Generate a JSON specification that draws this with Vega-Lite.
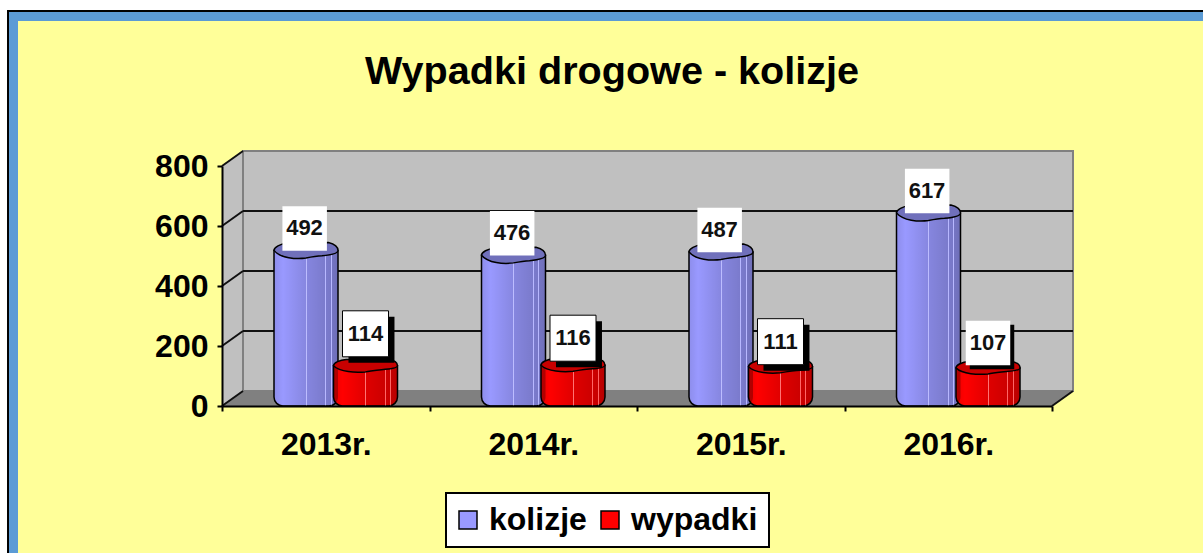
{"$schema":"https://vega.github.io/schema/vega-lite/v6.json","width":830,"height":240,"autosize":"none","padding":{"left":222,"top":166,"right":151,"bottom":147},"background":"white","config":{"view":{"stroke":null},"font":"Liberation Sans","legend":{"strokeWidth":2},"axis":{"grid":false}},"title":{"text":"Wypadki drogowe - kolizje","font":"Liberation Sans","fontSize":39.6,"fontWeight":"bold","color":"black","anchor":"middle","dx":-25,"offset":-121.5,"baseline":"bottom","zindex":1},"datasets":{"main":[{"year":"2013r.","series":"kolizje","value":492},{"year":"2014r.","series":"kolizje","value":476},{"year":"2015r.","series":"kolizje","value":487},{"year":"2016r.","series":"kolizje","value":617},{"year":"2013r.","series":"wypadki","value":114},{"year":"2014r.","series":"wypadki","value":116},{"year":"2015r.","series":"wypadki","value":111},{"year":"2016r.","series":"wypadki","value":107}]},"resolve":{"scale":{"x":"independent"},"axis":{"x":"independent"}},"layer":[{"layer":[{"data":{"values":[{"a":-1.0361,"b":4.76,"c":-523,"d":1320,"f":"black"},{"a":-1.0265,"b":4.76,"c":-523,"d":1313.3,"f":"#5B9BD5"},{"a":-0.9831,"b":4.76,"c":-523,"d":1283.3,"f":"#FFFF99"}]},"mark":{"type":"rect","clip":false},"encoding":{"x":{"field":"a","type":"quantitative","axis":null,"scale":{"domain":[0,4],"nice":false,"zero":false}},"x2":{"field":"b"},"y":{"field":"c","type":"quantitative","axis":{"values":[0,200,400,600,800],"title":null,"grid":false,"domainColor":"black","domainWidth":2,"tickColor":"black","tickWidth":2,"tickSize":5,"labelFont":"Liberation Sans","labelFontWeight":"bold","labelFontSize":32,"labelColor":"black","labelPadding":9,"zindex":1},"scale":{"domain":[0,800],"nice":false,"zero":false}},"y2":{"field":"d"},"fill":{"field":"f","type":"nominal","scale":null}}},{"data":{"values":[{"x":0,"y":0,"y2":800},{"x":0.1012,"y":50,"y2":850}]},"mark":{"type":"area","color":"#C0C0C0"},"encoding":{"x":{"field":"x","type":"quantitative","axis":null},"y":{"field":"y","type":"quantitative","title":null},"y2":{"field":"y2"}}},{"data":{"values":[{"x":0,"y":0,"y2":0},{"x":0.1012,"y":50,"y2":0},{"x":4,"y":50,"y2":0},{"x":4.1012,"y":50,"y2":50}]},"mark":{"type":"area","color":"#808080"},"encoding":{"x":{"field":"x","type":"quantitative","axis":null},"y":{"field":"y","type":"quantitative","title":null},"y2":{"field":"y2"}}},{"data":{"values":[{"a":0.1012,"b":4.1012,"c":50,"d":850}]},"mark":{"type":"rect","fill":"#C0C0C0","stroke":"#808080","strokeWidth":2},"encoding":{"x":{"field":"a","type":"quantitative","axis":null},"x2":{"field":"b"},"y":{"field":"c","type":"quantitative","title":null},"y2":{"field":"d"}}},{"data":{"values":[{"a":0.1012,"b":4.1012,"v":200},{"a":0.1012,"b":4.1012,"v":400},{"a":0.1012,"b":4.1012,"v":600}]},"mark":{"type":"rule","color":"#111111","strokeWidth":2,"yOffset":-15},"encoding":{"x":{"field":"a","type":"quantitative","axis":null},"x2":{"field":"b"},"y":{"field":"v","type":"quantitative","title":null}}},{"data":{"values":[{"a":0,"b":0.1012,"v":0,"w":50},{"a":0,"b":0.1012,"v":200,"w":250},{"a":0,"b":0.1012,"v":400,"w":450},{"a":0,"b":0.1012,"v":600,"w":650},{"a":0,"b":0.1012,"v":800,"w":850},{"a":4,"b":4.1012,"v":0,"w":50}]},"mark":{"type":"rule","color":"#111111","strokeWidth":2},"encoding":{"x":{"field":"a","type":"quantitative","axis":null},"x2":{"field":"b"},"y":{"field":"v","type":"quantitative","title":null},"y2":{"field":"w"}}}]},{"data":{"name":"main"},"layer":[{"transform":[{"filter":"datum.series==='kolizje'"}],"mark":{"type":"bar","width":64,"stroke":"black","strokeWidth":1.5,"cornerRadiusBottomLeft":9,"cornerRadiusBottomRight":9,"yOffset":-8},"encoding":{"x":{"field":"year","type":"nominal","sort":null,"scale":{"paddingInner":0,"paddingOuter":0},"axis":{"orient":"bottom","title":null,"labelAngle":0,"tickBand":"extent","domainColor":"black","domainWidth":2,"tickColor":"black","tickWidth":2,"tickSize":5,"labelFont":"Liberation Sans","labelFontWeight":"bold","labelFontSize":32,"labelColor":"black","labelPadding":18,"zindex":1}},"xOffset":{"field":"series","type":"nominal","sort":null,"scale":{"domain":["kolizje","wypadki"],"range":[54.25,173.25],"paddingInner":0,"paddingOuter":0}},"y":{"field":"value","type":"quantitative","title":null},"y2":{"datum":0},"color":{"field":"series","type":"nominal","scale":{"domain":["kolizje","wypadki"],"range":["#9999FF","#FF0000"]},"legend":{"orient":"none","legendX":224,"legendY":327,"direction":"horizontal","fillColor":"white","strokeColor":"black","padding":11,"title":null,"symbolType":"square","symbolSize":324,"symbolStrokeColor":"black","symbolStrokeWidth":1.5,"symbolOffset":-5,"labelFont":"Liberation Sans","labelFontWeight":"bold","labelFontSize":32,"labelColor":"black","labelLimit":0,"columnPadding":11,"labelOffset":5}}}},{"transform":[{"filter":"datum.series==='wypadki'"}],"mark":{"type":"bar","width":64,"stroke":"black","strokeWidth":1.5,"cornerRadiusBottomLeft":9,"cornerRadiusBottomRight":9,"yOffset":-6},"encoding":{"x":{"field":"year","type":"nominal","sort":null},"xOffset":{"field":"series","type":"nominal","sort":null},"y":{"field":"value","type":"quantitative","title":null},"y2":{"datum":0},"color":{"field":"series","type":"nominal"}}},{"transform":[{"filter":"datum.series==='kolizje'"}],"mark":{"type":"bar","width":64,"cornerRadiusBottomLeft":9,"cornerRadiusBottomRight":9,"yOffset":-8,"color":{"gradient":"linear","x1":0,"y1":0,"x2":1,"y2":0,"stops":[{"offset":0,"color":"rgba(0,0,0,0.08)"},{"offset":0.14,"color":"rgba(0,0,0,0)"},{"offset":0.5,"color":"rgba(0,0,0,0.12)"},{"offset":0.5,"color":"rgba(255,255,255,0.35)"},{"offset":0.515,"color":"rgba(255,255,255,0.35)"},{"offset":0.515,"color":"rgba(0,0,0,0.13)"},{"offset":0.8,"color":"rgba(0,0,0,0.2)"},{"offset":0.8,"color":"rgba(255,255,255,0.3)"},{"offset":0.815,"color":"rgba(255,255,255,0.3)"},{"offset":0.815,"color":"rgba(0,0,0,0.2)"},{"offset":0.89,"color":"rgba(0,0,0,0.22)"},{"offset":0.89,"color":"rgba(255,255,255,0.3)"},{"offset":0.905,"color":"rgba(255,255,255,0.3)"},{"offset":0.905,"color":"rgba(0,0,0,0.24)"},{"offset":1,"color":"rgba(0,0,0,0.28)"}]}},"encoding":{"x":{"field":"year","type":"nominal","sort":null},"xOffset":{"field":"series","type":"nominal","sort":null},"y":{"field":"value","type":"quantitative","title":null},"y2":{"datum":0}}},{"transform":[{"filter":"datum.series==='wypadki'"}],"mark":{"type":"bar","width":64,"cornerRadiusBottomLeft":9,"cornerRadiusBottomRight":9,"yOffset":-6,"color":{"gradient":"linear","x1":0,"y1":0,"x2":1,"y2":0,"stops":[{"offset":0,"color":"rgba(0,0,0,0.08)"},{"offset":0.14,"color":"rgba(0,0,0,0)"},{"offset":0.5,"color":"rgba(0,0,0,0.12)"},{"offset":0.5,"color":"rgba(255,255,255,0.45)"},{"offset":0.515,"color":"rgba(255,255,255,0.45)"},{"offset":0.515,"color":"rgba(0,0,0,0.13)"},{"offset":0.8,"color":"rgba(0,0,0,0.2)"},{"offset":0.8,"color":"rgba(255,255,255,0.4)"},{"offset":0.815,"color":"rgba(255,255,255,0.4)"},{"offset":0.815,"color":"rgba(0,0,0,0.2)"},{"offset":0.89,"color":"rgba(0,0,0,0.22)"},{"offset":0.89,"color":"rgba(255,255,255,0.4)"},{"offset":0.905,"color":"rgba(255,255,255,0.4)"},{"offset":0.905,"color":"rgba(0,0,0,0.24)"},{"offset":1,"color":"rgba(0,0,0,0.28)"}]}},"encoding":{"x":{"field":"year","type":"nominal","sort":null},"xOffset":{"field":"series","type":"nominal","sort":null},"y":{"field":"value","type":"quantitative","title":null},"y2":{"datum":0}}},{"transform":[{"filter":"datum.series==='kolizje'"}],"mark":{"type":"point","shape":"M-1,0 C-1,-0.1 -0.8,-0.2 -0.6,-0.22 L0.7,-0.25 C0.9,-0.2 1,-0.1 1,0 C1,0.08 0.8,0.14 0.5,0.17 C0.3,0.18 0.2,0.2 0,0.24 C-0.3,0.28 -0.8,0.25 -1,0 Z","size":4096,"filled":true,"fill":"#7070BB","stroke":"black","strokeWidth":1.5,"opacity":1,"yOffset":-8},"encoding":{"x":{"field":"year","type":"nominal","sort":null},"xOffset":{"field":"series","type":"nominal","sort":null},"y":{"field":"value","type":"quantitative","title":null}}},{"transform":[{"filter":"datum.series==='wypadki'"}],"mark":{"type":"point","shape":"M-1,0 C-1,-0.1 -0.8,-0.18 -0.6,-0.2 L0.7,-0.2 C0.9,-0.18 1,-0.1 1,0 C1,0.06 0.8,0.1 0.5,0.12 C0.3,0.13 0.2,0.16 0,0.19 C-0.3,0.22 -0.8,0.2 -1,0 Z","size":4096,"filled":true,"fill":"#C80000","stroke":"black","strokeWidth":1.5,"opacity":1,"yOffset":-6},"encoding":{"x":{"field":"year","type":"nominal","sort":null},"xOffset":{"field":"series","type":"nominal","sort":null},"y":{"field":"value","type":"quantitative","title":null}}},{"transform":[{"filter":"datum.series==='kolizje'"}],"layer":[{"mark":{"type":"point","shape":"M-1.06,-1 L0.94,-1 L0.94,1 L-1.06,1 Z","size":1980,"filled":true,"fill":"white","opacity":1,"yOffset":-30,"stroke":null}},{"mark":{"type":"text","font":"Liberation Sans","fontWeight":"bold","fontSize":22,"color":"#111111","baseline":"middle","yOffset":-30,"dx":-1.5},"encoding":{"text":{"field":"value","type":"quantitative"}}}],"encoding":{"x":{"field":"year","type":"nominal","sort":null},"xOffset":{"field":"series","type":"nominal","sort":null},"y":{"field":"value","type":"quantitative","title":null}}},{"transform":[{"filter":"datum.value===114"}],"layer":[{"mark":{"type":"point","shape":"M-0.74,-0.74 L1.26,-0.74 L1.26,1.26 L-0.74,1.26 Z","size":2116,"filled":true,"fill":"black","opacity":1,"yOffset":-38,"stroke":null}},{"mark":{"type":"point","shape":"square","size":2116,"filled":true,"fill":"white","stroke":"black","strokeWidth":1,"opacity":1,"yOffset":-38}},{"mark":{"type":"text","font":"Liberation Sans","fontWeight":"bold","fontSize":22,"color":"#111111","baseline":"middle","yOffset":-38},"encoding":{"text":{"field":"value","type":"quantitative"}}}],"encoding":{"x":{"field":"year","type":"nominal","sort":null},"xOffset":{"field":"series","type":"nominal","sort":null},"y":{"field":"value","type":"quantitative","title":null}}},{"transform":[{"filter":"datum.value===116"}],"layer":[{"mark":{"type":"point","shape":"M-0.74,-0.74 L1.26,-0.74 L1.26,1.26 L-0.74,1.26 Z","size":2116,"filled":true,"fill":"black","opacity":1,"yOffset":-33,"stroke":null}},{"mark":{"type":"point","shape":"square","size":2116,"filled":true,"fill":"white","stroke":"black","strokeWidth":1,"opacity":1,"yOffset":-33}},{"mark":{"type":"text","font":"Liberation Sans","fontWeight":"bold","fontSize":22,"color":"#111111","baseline":"middle","yOffset":-33},"encoding":{"text":{"field":"value","type":"quantitative"}}}],"encoding":{"x":{"field":"year","type":"nominal","sort":null},"xOffset":{"field":"series","type":"nominal","sort":null},"y":{"field":"value","type":"quantitative","title":null}}},{"transform":[{"filter":"datum.value===111"}],"layer":[{"mark":{"type":"point","shape":"M-0.74,-0.74 L1.26,-0.74 L1.26,1.26 L-0.74,1.26 Z","size":2116,"filled":true,"fill":"black","opacity":1,"yOffset":-31,"stroke":null}},{"mark":{"type":"point","shape":"square","size":2116,"filled":true,"fill":"white","stroke":"black","strokeWidth":1,"opacity":1,"yOffset":-31}},{"mark":{"type":"text","font":"Liberation Sans","fontWeight":"bold","fontSize":22,"color":"#111111","baseline":"middle","yOffset":-31},"encoding":{"text":{"field":"value","type":"quantitative"}}}],"encoding":{"x":{"field":"year","type":"nominal","sort":null},"xOffset":{"field":"series","type":"nominal","sort":null},"y":{"field":"value","type":"quantitative","title":null}}},{"transform":[{"filter":"datum.value===107"}],"layer":[{"mark":{"type":"point","shape":"M-0.82,-0.82 L1.18,-0.82 L1.18,1.18 L-0.82,1.18 Z","size":1980,"filled":true,"fill":"black","opacity":1,"yOffset":-31,"stroke":null}},{"mark":{"type":"point","shape":"square","size":1980,"filled":true,"fill":"white","opacity":1,"yOffset":-31,"stroke":null}},{"mark":{"type":"text","font":"Liberation Sans","fontWeight":"bold","fontSize":22,"color":"#111111","baseline":"middle","yOffset":-31},"encoding":{"text":{"field":"value","type":"quantitative"}}}],"encoding":{"x":{"field":"year","type":"nominal","sort":null},"xOffset":{"field":"series","type":"nominal","sort":null},"y":{"field":"value","type":"quantitative","title":null}}}]}]}
